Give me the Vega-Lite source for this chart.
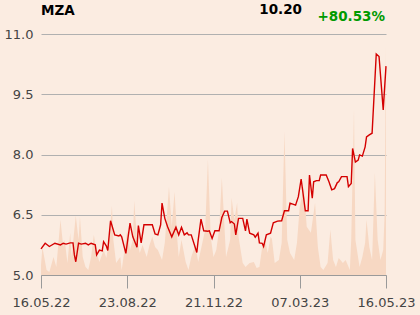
{
  "$schema": "https://vega.github.io/schema/vega-lite/v6.json",
  "width": 345,
  "height": 241,
  "autosize": {"type": "none"},
  "padding": {"left": 41, "top": 34, "right": 34, "bottom": 40},
  "background": "#fbece1",
  "config": {
    "view": {"stroke": null},
    "font": "DejaVu Sans",
    "axis": {"labelFont": "DejaVu Sans", "labelFontSize": 13, "labelColor": "#444444"}
  },
  "datasets": {
    "price": [
      {"d":0,"p":5.65},{"d":3,"p":5.79},{"d":6,"p":5.71},{"d":10,"p":5.79},{"d":14,"p":5.75},{"d":16,"p":5.79},{"d":18,"p":5.77},{"d":21,"p":5.80},{"d":23,"p":5.80},{"d":24,"p":5.50},{"d":25,"p":5.33},{"d":27,"p":5.79},{"d":29,"p":5.77},{"d":32,"p":5.79},{"d":34,"p":5.75},{"d":36,"p":5.79},{"d":39,"p":5.75},{"d":40,"p":5.50},{"d":42,"p":5.62},{"d":44,"p":5.60},{"d":45,"p":5.83},{"d":47,"p":5.72},{"d":48,"p":5.61},{"d":50,"p":6.35},{"d":53,"p":6.00},{"d":56,"p":5.97},{"d":57,"p":6.00},{"d":58,"p":5.95},{"d":61,"p":5.54},{"d":64,"p":6.29},{"d":66,"p":5.95},{"d":69,"p":5.69},{"d":70,"p":6.23},{"d":72,"p":5.80},{"d":74,"p":6.25},{"d":80,"p":6.25},{"d":82,"p":6.02},{"d":84,"p":6.00},{"d":86,"p":6.25},{"d":87,"p":6.79},{"d":89,"p":6.41},{"d":91,"p":6.20},{"d":94,"p":5.95},{"d":97,"p":6.19},{"d":99,"p":6.00},{"d":101,"p":6.19},{"d":103,"p":6.00},{"d":105,"p":6.05},{"d":106,"p":6.00},{"d":108,"p":6.00},{"d":112,"p":5.56},{"d":113,"p":5.87},{"d":115,"p":6.39},{"d":117,"p":6.10},{"d":120,"p":6.09},{"d":121,"p":6.10},{"d":123,"p":5.91},{"d":125,"p":6.10},{"d":128,"p":6.10},{"d":130,"p":6.43},{"d":132,"p":6.59},{"d":134,"p":6.59},{"d":136,"p":6.30},{"d":137,"p":6.33},{"d":139,"p":6.27},{"d":140,"p":6.00},{"d":142,"p":6.41},{"d":145,"p":6.41},{"d":147,"p":6.10},{"d":148,"p":6.39},{"d":150,"p":6.04},{"d":153,"p":6.00},{"d":154,"p":5.94},{"d":156,"p":6.04},{"d":157,"p":5.80},{"d":159,"p":5.79},{"d":160,"p":5.71},{"d":162,"p":6.00},{"d":165,"p":6.04},{"d":167,"p":6.30},{"d":170,"p":6.34},{"d":173,"p":6.35},{"d":175,"p":6.60},{"d":178,"p":6.60},{"d":179,"p":6.79},{"d":183,"p":6.74},{"d":185,"p":6.95},{"d":187,"p":7.39},{"d":190,"p":6.60},{"d":192,"p":6.60},{"d":193,"p":7.49},{"d":195,"p":6.91},{"d":196,"p":7.32},{"d":198,"p":7.35},{"d":200,"p":7.35},{"d":201,"p":7.49},{"d":205,"p":7.49},{"d":207,"p":7.32},{"d":209,"p":7.12},{"d":211,"p":7.15},{"d":213,"p":7.30},{"d":214,"p":7.32},{"d":216,"p":7.45},{"d":220,"p":7.45},{"d":221,"p":7.20},{"d":223,"p":7.28},{"d":224,"p":8.15},{"d":226,"p":7.81},{"d":228,"p":7.86},{"d":229,"p":7.99},{"d":231,"p":7.96},{"d":233,"p":8.19},{"d":234,"p":8.44},{"d":236,"p":8.49},{"d":238,"p":8.53},{"d":241,"p":10.50},{"d":243,"p":10.44},{"d":246,"p":9.11},{"d":248,"p":10.20}
    ],
    "volume": [
      {"d":0,"v":10},{"d":1,"v":28},{"d":4,"v":5},{"d":6,"v":3},{"d":9,"v":18},{"d":11,"v":8},{"d":14,"v":55},{"d":16,"v":28},{"d":17,"v":35},{"d":19,"v":12},{"d":21,"v":42},{"d":22,"v":18},{"d":25,"v":59},{"d":27,"v":35},{"d":28,"v":58},{"d":30,"v":18},{"d":32,"v":8},{"d":34,"v":5},{"d":36,"v":18},{"d":38,"v":40},{"d":40,"v":22},{"d":42,"v":13},{"d":45,"v":25},{"d":47,"v":17},{"d":49,"v":35},{"d":51,"v":69},{"d":52,"v":35},{"d":54,"v":12},{"d":57,"v":18},{"d":58,"v":5},{"d":60,"v":25},{"d":62,"v":45},{"d":64,"v":25},{"d":66,"v":35},{"d":67,"v":74},{"d":69,"v":35},{"d":71,"v":22},{"d":73,"v":30},{"d":76,"v":18},{"d":78,"v":30},{"d":80,"v":38},{"d":82,"v":28},{"d":84,"v":25},{"d":87,"v":15},{"d":89,"v":32},{"d":92,"v":88},{"d":94,"v":48},{"d":96,"v":83},{"d":98,"v":35},{"d":99,"v":18},{"d":101,"v":35},{"d":104,"v":13},{"d":106,"v":5},{"d":108,"v":18},{"d":111,"v":30},{"d":113,"v":13},{"d":116,"v":32},{"d":118,"v":45},{"d":120,"v":115},{"d":122,"v":38},{"d":124,"v":18},{"d":126,"v":25},{"d":128,"v":45},{"d":130,"v":97},{"d":132,"v":45},{"d":133,"v":18},{"d":136,"v":35},{"d":137,"v":77},{"d":139,"v":55},{"d":141,"v":72},{"d":142,"v":38},{"d":145,"v":12},{"d":147,"v":8},{"d":150,"v":12},{"d":153,"v":13},{"d":155,"v":7},{"d":157,"v":8},{"d":159,"v":28},{"d":161,"v":35},{"d":163,"v":22},{"d":165,"v":38},{"d":166,"v":36},{"d":168,"v":12},{"d":171,"v":15},{"d":173,"v":32},{"d":175,"v":143},{"d":177,"v":35},{"d":179,"v":22},{"d":182,"v":15},{"d":184,"v":32},{"d":186,"v":68},{"d":189,"v":88},{"d":191,"v":48},{"d":194,"v":42},{"d":197,"v":72},{"d":199,"v":28},{"d":201,"v":8},{"d":203,"v":5},{"d":206,"v":12},{"d":208,"v":45},{"d":210,"v":15},{"d":212,"v":8},{"d":214,"v":17},{"d":217,"v":12},{"d":219,"v":15},{"d":222,"v":5},{"d":223,"v":35},{"d":225,"v":165},{"d":226,"v":35},{"d":229,"v":8},{"d":231,"v":18},{"d":233,"v":32},{"d":234,"v":55},{"d":236,"v":28},{"d":238,"v":15},{"d":240,"v":102},{"d":242,"v":35},{"d":244,"v":15},{"d":246,"v":25},{"d":247,"v":60},{"d":248,"v":229}
    ],
    "header": [
      {"label": "MZA", "d": 0, "y": 11.47},
      {"label": "10.20", "d": 187.6, "y": 11.5},
      {"label": "+80.53%", "d": 247.3, "y": 11.32}
    ]
  },
  "encoding": {
    "x": {
      "field": "d",
      "type": "quantitative",
      "scale": {"domain": [0, 248], "nice": false, "zero": false},
      "axis": {
        "title": null,
        "values": [0, 62, 124, 186, 248],
        "labelExpr": "['16.05.22','23.08.22','21.11.22','07.03.23','16.05.23'][round(datum.value/62)]",
        "grid": false,
        "tickSize": 13,
        "tickColor": "#9a9a9a",
        "domainColor": "#9a9a9a",
        "labelPadding": 8,
        "labelFlush": false,
        "labelOverlap": false
      }
    }
  },
  "layer": [
    {
      "data": {"name": "volume"},
      "mark": {"type": "area", "color": "#f7d8c3", "opacity": 1, "interpolate": "linear"},
      "encoding": {
        "y": {"field": "v", "type": "quantitative", "scale": {"domain": [0, 240], "nice": false}, "axis": null}
      }
    },
    {
      "data": {"name": "price"},
      "mark": {"type": "line", "color": "#d40000", "strokeWidth": 1.4},
      "encoding": {
        "y": {
          "field": "p",
          "type": "quantitative",
          "scale": {"domain": [5, 11], "nice": false, "zero": false},
          "axis": {
            "title": null,
            "values": [5, 6.5, 8, 9.5, 11],
            "format": ".1f",
            "grid": true,
            "gridColor": "#b0b0b0",
            "gridWidth": 1,
            "domain": false,
            "ticks": false,
            "labelPadding": 8
          }
        }
      }
    },
    {
      "data": {"name": "header"},
      "transform": [{"filter": "datum.label == 'MZA'"}],
      "mark": {"type": "text", "align": "left", "baseline": "alphabetic", "font": "DejaVu Sans", "fontWeight": "bold", "fontSize": 13.5, "color": "#000000"},
      "encoding": {
        "x": {"field": "d", "type": "quantitative"},
        "y": {"field": "y", "type": "quantitative", "scale": {"domain": [5, 11], "nice": false, "zero": false}, "axis": null},
        "text": {"field": "label"}
      }
    },
    {
      "data": {"name": "header"},
      "transform": [{"filter": "datum.label == '10.20'"}],
      "mark": {"type": "text", "align": "right", "baseline": "alphabetic", "font": "DejaVu Sans", "fontWeight": "bold", "fontSize": 13.5, "color": "#000000"},
      "encoding": {
        "x": {"field": "d", "type": "quantitative"},
        "y": {"field": "y", "type": "quantitative", "scale": {"domain": [5, 11], "nice": false, "zero": false}, "axis": null},
        "text": {"field": "label"}
      }
    },
    {
      "data": {"name": "header"},
      "transform": [{"filter": "datum.label == '+80.53%'"}],
      "mark": {"type": "text", "align": "right", "baseline": "alphabetic", "font": "DejaVu Sans", "fontWeight": "bold", "fontSize": 13.5, "color": "#009a00"},
      "encoding": {
        "x": {"field": "d", "type": "quantitative"},
        "y": {"field": "y", "type": "quantitative", "scale": {"domain": [5, 11], "nice": false, "zero": false}, "axis": null},
        "text": {"field": "label"}
      }
    }
  ],
  "resolve": {"scale": {"y": "independent"}}
}
